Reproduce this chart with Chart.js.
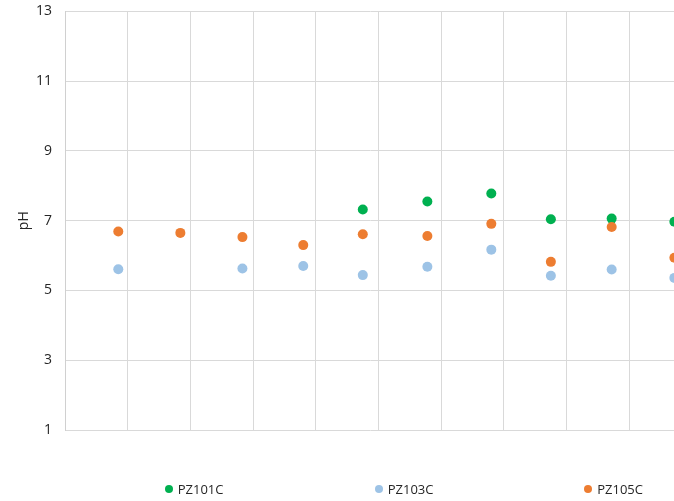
<!DOCTYPE html>
<html>
<head>
<meta charset="utf-8">
<script src="https://cdn.jsdelivr.net/npm/chart.js@4"></script>
<style>
  html, body { margin: 0; padding: 0; background: #ffffff; overflow: hidden; }
  #wrap { position: relative; width: 674px; height: 501px; overflow: hidden; }
  canvas { position: absolute; left: 0; top: -10px; }
  .lg { position: absolute; top: 480px; height: 18px; display: flex; align-items: center;
        font-family: "Open Sans", "Noto Sans", sans-serif; font-size: 13px; color: #262626; white-space: nowrap; }
  .lg i { display: inline-block; width: 8px; height: 8px; border-radius: 50%; margin-right: 5px; }
</style>
</head>
<body>
<div id="wrap">
  <canvas id="c" width="680" height="511"></canvas>
  <div id="legend"></div>
</div>
<script>
// Sampling positions along the (unlabelled) x axis
const samplePositions = [0.85, 1.84, 2.83, 3.80, 4.75, 5.78, 6.80, 7.75, 8.72, 9.72];
const seriesNames = ["PZ101C", "PZ103C", "PZ105C"];
const pz101c = [null, null, null, null, 7.32, 7.55, 7.78, 7.04, 7.06, 6.97];
const pz103c = [5.61, null, 5.63, 5.70, 5.44, 5.68, 6.17, 5.42, 5.60, 5.36];
const pz105c = [6.69, 6.65, 6.53, 6.30, 6.61, 6.56, 6.91, 5.82, 6.82, 5.94];
const yTicks = [1, 3, 5, 7, 9, 11, 13];
const xGridPositions = [0, 1, 2, 3, 4, 5, 6, 7, 8, 9];
const seriesColors = ["#00B050", "#9DC3E6", "#ED7D31"];

function toPoints(vals) {
  const pts = [];
  vals.forEach((v, i) => { if (v !== null) pts.push({ x: samplePositions[i], y: v }); });
  return pts;
}
const allSeries = [pz101c, pz103c, pz105c];
const FONT = '"Open Sans", "Noto Sans", sans-serif';

const datasets = allSeries.map((vals, i) => ({
  label: seriesNames[i],
  data: toPoints(vals),
  backgroundColor: seriesColors[i],
  borderColor: seriesColors[i],
  pointRadius: 5,
  pointBorderWidth: 0,
  pointHoverRadius: 5,
  showLine: false,
  order: 3 - i
}));

new Chart(document.getElementById('c'), {
  type: 'scatter',
  data: { datasets },
  options: {
    responsive: false,
    animation: false,
    clip: false,
    layout: { padding: { top: 3, right: 0, bottom: 71, left: 0 } },
    plugins: { legend: { display: false }, tooltip: { enabled: false } },
    scales: {
      x: {
        type: 'linear',
        min: 0,
        max: 9.73,
        afterBuildTicks: (s) => { s.ticks = xGridPositions.map(v => ({ value: v })); },
        afterFit: (s) => { s.height = 0; },
        ticks: { display: false },
        grid: { color: '#d9d9d9', lineWidth: 1, drawTicks: false },
        border: { display: false }
      },
      y: {
        min: 1,
        max: 13,
        afterBuildTicks: (s) => { s.ticks = yTicks.map(v => ({ value: v })); },
        afterFit: (s) => { s.width = 65; },
        ticks: { padding: 13, color: '#262626', font: { family: FONT, size: 14 } },
        grid: { color: '#d9d9d9', lineWidth: 1, drawTicks: false },
        border: { display: true, color: '#d0d0d0', width: 1 },
        title: { display: true, text: 'pH', color: '#262626', font: { family: FONT, size: 14 }, padding: { top: 15.6, bottom: 0 } }
      }
    }
  }
});

// HTML legend
const legendX = [164.7, 374.7, 584.2];
const lg = document.getElementById('legend');
seriesNames.forEach((n, i) => {
  const d = document.createElement('div');
  d.className = 'lg';
  d.style.left = legendX[i] + 'px';
  d.innerHTML = '<i style="background:' + seriesColors[i] + '"></i>' + n;
  lg.appendChild(d);
});
</script>
</body>
</html>
